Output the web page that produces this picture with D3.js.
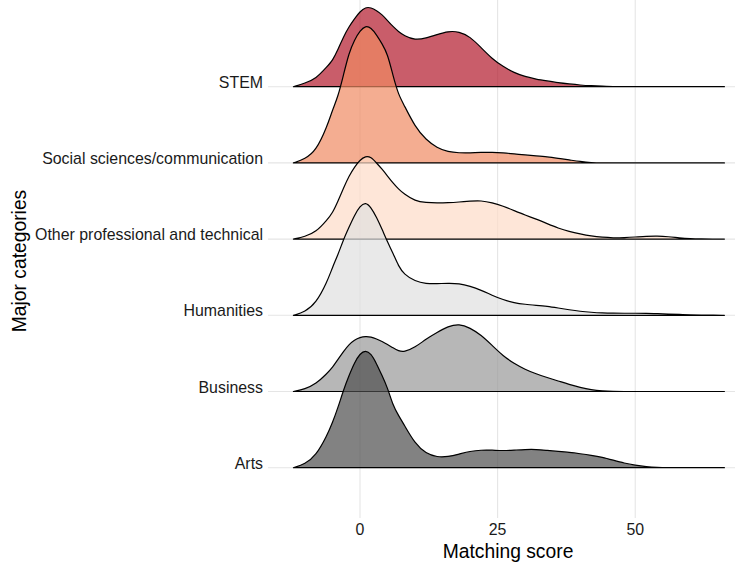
<!DOCTYPE html>
<html>
<head>
<meta charset="utf-8">
<script src="https://cdn.jsdelivr.net/npm/d3@7"></script>
<style>
  body { margin: 0; background: #fff; }
  text { font-family: "Liberation Sans", Arial, sans-serif; }
</style>
</head>
<body>
<div id="chart"></div>
<script>
// categories, top row first
const categories = ['STEM', 'Social sciences/communication', 'Other professional and technical', 'Humanities', 'Business', 'Arts'];
const fills = ['#B2182B', '#EF8A62', '#FDDBC7', '#E0E0E0', '#999999', '#4D4D4D'];

// matching score grid the densities are read at
const scoreGrid = [-12.1, -10, -8, -6, -5, -4, -3, -2, -1, 0, 1, 2, 3, 4, 5, 6, 7, 8, 10, 12, 14, 16, 18, 20, 22, 24, 26, 28, 30,
  32, 34, 36, 38, 40, 42, 44, 46, 48, 50, 52, 54, 56, 58, 60, 62, 64, 66.2];

// estimated densities (x1000) per category
const stem = [0, 2.6, 5.8, 14.6, 19, 27, 36.5, 43.8, 49.6, 54.8, 58, 57.7, 55.5, 52.6, 48.2, 43.8, 40.2, 37.2, 33.9, 35.4, 38, 40.5, 40.2, 36.5,
  28.5, 20.4, 14.6, 10.2, 7.3, 5.5, 4.2, 2.9, 2, 1.2, 0.7, 0.4, 0.1, 0, 0, 0, 0, 0, 0, 0, 0, 0, 0];
const social = [0, 2.9, 8.8, 26.3, 38.7, 48.2, 64.2, 80.3, 89.8, 96.4, 100, 98.6, 93.4, 86.9, 79.6, 63.5, 49.6, 42.3, 26.3, 16.8, 11, 8, 7.3, 7.3,
  7.7, 7.7, 7.3, 6.6, 5.8, 5.1, 4.4, 3.3, 2.2, 1, 0.2, 0, 0, 0, 0, 0, 0, 0, 0, 0, 0, 0, 0];
const otherProf = [0, 1.8, 5.1, 13.9, 19, 27.7, 37.2, 46, 52.6, 57.7, 60.6, 59.9, 55.5, 51.1, 46, 40.9, 36.5, 32.9, 27.7, 26.6, 26.3, 26.5, 27, 27.7,
  28.1, 26.6, 24.1, 20.8, 17.5, 14.6, 11.3, 8, 5.5, 3.7, 2.2, 1.3, 0.9, 1.1, 1.5, 2, 2.2, 1.8, 0.9, 0.3, 0.1, 0, 0];
const humanities = [0, 2.6, 8.8, 24.1, 35, 44.2, 55.3, 64.2, 73, 79.6, 82.5, 78.8, 71.5, 62.8, 53.3, 45.3, 35.8, 29.9, 24.8, 23, 23, 23.4, 23.2, 21.2,
  18.3, 14.6, 11.3, 9.1, 8, 7.3, 6.6, 5.3, 4, 2.9, 2.2, 1.7, 1.5, 1.5, 1.5, 1.5, 1.2, 0.9, 0.7, 0.4, 0.2, 0.1, 0];
const business = [0, 1.8, 5.5, 13.1, 17.5, 23.4, 29.2, 34.3, 37.6, 39.4, 40.2, 39.8, 38.3, 36.5, 34.3, 31.8, 29.6, 28.7, 32.1, 38.3, 43.1, 47.5, 49.4, 46.4,
  41.2, 33.6, 25.9, 20.4, 16.1, 12.8, 10.2, 7.7, 5.1, 2.9, 1.2, 0.4, 0.1, 0, 0, 0, 0, 0, 0, 0, 0, 0, 0];
const arts = [0, 2.6, 8.8, 23.4, 32.9, 43.8, 56.7, 67.2, 76.7, 83.2, 85.7, 83.2, 75.9, 67.2, 58.4, 45.3, 38, 31.4, 17.5, 10.2, 7.7, 8, 9.9, 12,
  12.9, 12.8, 12.4, 12.8, 13.3, 13.4, 12.6, 11.9, 11.2, 10.2, 9.1, 7.7, 5.5, 3.3, 1.8, 0.7, 0.1, 0, 0, 0, 0, 0, 0];

const xTicks = [0, 25, 50];

const densities = [stem, social, otherProf, humanities, business, arts];

const width = 735;
const height = 565;

const dim = {
  panelLeft: 268,
  panelRight: 735,
  panelTop: 0,
  panelBottom: 518,
  firstRow: 86.7,
  lastRow: 467.7,
  ridgeScale: 1.8,
};

const svg = d3.select('#chart').append('svg')
  .attr('width', width)
  .attr('height', height);

const x = d3.scaleLinear()
  .domain([-12.1, 66.2])
  .range([293.4, 724.4]);

const y = d3.scalePoint()
  .domain(categories)
  .range([dim.firstRow, dim.lastRow]);

const h = d3.scaleLinear()
  .domain([0, d3.max(densities, s => d3.max(s))])
  .range([0, dim.ridgeScale * y.step()]);

// grid
const grid = svg.append('g').attr('class', 'grid');
grid.selectAll('line.v')
  .data(xTicks)
  .enter().append('line')
  .attr('class', 'v')
  .attr('x1', d => x(d)).attr('x2', d => x(d))
  .attr('y1', dim.panelTop).attr('y2', dim.panelBottom)
  .style('stroke', '#e5e5e5').style('stroke-width', 1.1);
grid.selectAll('line.h')
  .data(categories)
  .enter().append('line')
  .attr('class', 'h')
  .attr('x1', dim.panelLeft).attr('x2', dim.panelRight)
  .attr('y1', d => y(d)).attr('y2', d => y(d))
  .style('stroke', '#e5e5e5').style('stroke-width', 1.1);

// ridges, top row drawn first so lower rows overlap it
const area = d3.area()
  .x((d, i) => x(scoreGrid[i]))
  .y0(0)
  .y1(d => -h(d))
  .curve(d3.curveBasis);

categories.forEach((cat, i) => {
  svg.append('g')
    .attr('class', `ridge${i}`)
    .attr('transform', `translate(0, ${y(cat)})`)
    .append('path')
    .attr('d', area(densities[i]))
    .style('fill', fills[i])
    .style('fill-opacity', 0.7)
    .style('stroke', '#000')
    .style('stroke-width', 1.2)
    .style('stroke-linejoin', 'round');
});

// y labels
svg.append('g').selectAll('text')
  .data(categories)
  .enter().append('text')
  .attr('x', 263)
  .attr('y', d => y(d) + 1)
  .attr('text-anchor', 'end')
  .style('font-size', '15.9px')
  .style('fill', '#1a1a1a')
  .text(d => d);

// x tick labels
svg.append('g').selectAll('text')
  .data(xTicks)
  .enter().append('text')
  .attr('x', d => x(d))
  .attr('y', 535)
  .attr('text-anchor', 'middle')
  .style('font-size', '15.9px')
  .style('fill', '#1a1a1a')
  .text(d => d);

// axis titles
svg.append('text')
  .attr('x', 508)
  .attr('y', 558)
  .attr('text-anchor', 'middle')
  .style('font-size', '19.3px')
  .style('fill', '#000')
  .text('Matching score');

svg.append('text')
  .attr('transform', 'translate(25.5, 261) rotate(-90)')
  .attr('text-anchor', 'middle')
  .style('font-size', '19.3px')
  .style('fill', '#000')
  .text('Major categories');
</script>
</body>
</html>
